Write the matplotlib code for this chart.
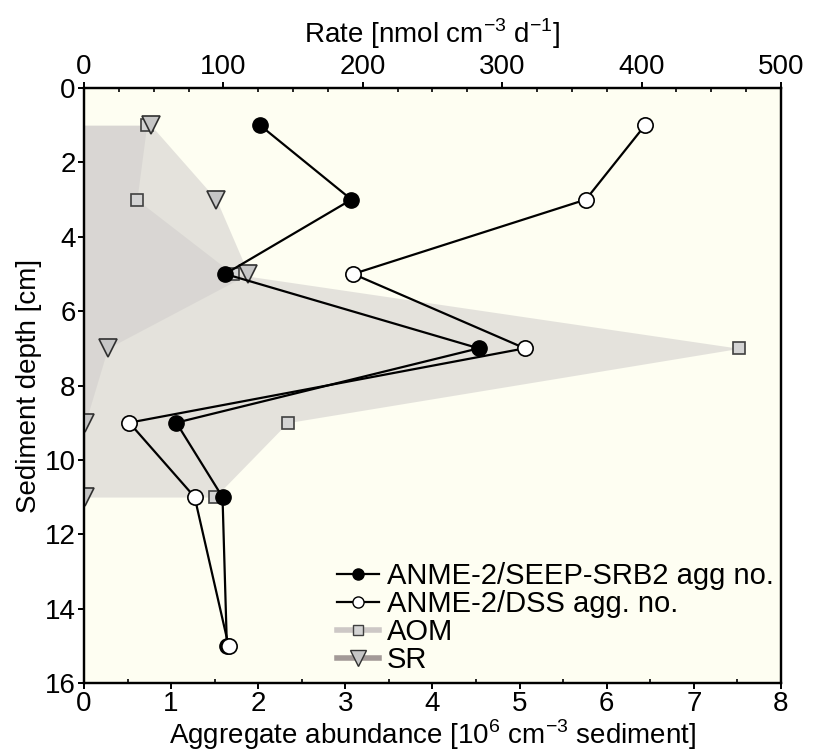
import matplotlib
matplotlib.use("Agg")
import matplotlib.pyplot as plt
from matplotlib.lines import Line2D
from matplotlib.ticker import MultipleLocator

plt.rcParams["font.family"] = ["Liberation Sans", "DejaVu Sans"]
plt.rcParams["mathtext.fontset"] = "custom"
plt.rcParams["mathtext.rm"] = "Liberation Sans"

# depths [cm]
depth_agg = [1, 3, 5, 7, 9, 11, 15]
depth_rate = [1, 3, 5, 7, 9, 11]

# aggregate abundance [10^6 cm-3]
seep_srb2 = [2.02, 3.07, 1.62, 4.53, 1.06, 1.59, 1.64]
dss = [6.44, 5.76, 3.09, 5.06, 0.52, 1.27, 1.66]

# rates [nmol cm-3 d-1]
aom = [45, 38, 107, 470, 146, 94]
sr = [48, 95, 118, 17, 1, 1]

bg = "#fefef2"
fill_col = "#d2cfcd"
aom_line = "#cdc8c6"
sr_line = "#a39a98"
fs = 20

fig = plt.figure(figsize=(8.17, 7.55), dpi=100)
ax2 = fig.add_axes([0.1028, 0.0954, 0.8531, 0.788])
ax = ax2.twiny()
ax.set_zorder(ax2.get_zorder() + 1)
ax.patch.set_visible(False)
ax2.set_facecolor(bg)

# rate profiles as shaded areas (top axis)
ax2.fill_betweenx(depth_rate, 0, aom, color=fill_col, alpha=0.58, lw=0)
ax2.fill_betweenx(depth_rate, 0, sr, color=fill_col, alpha=0.58, lw=0)
ax2.plot(aom, depth_rate, ls="none", marker="s", ms=8.5, mfc="#d4d4d4",
         mec="#404040", mew=1.2, zorder=3)
ax2.plot(sr, depth_rate, ls="none", marker="v", ms=13, mfc="#c6c6c6",
         mec="#303030", mew=1.2, zorder=4)

# aggregate profiles (bottom axis)
ax.plot(seep_srb2, depth_agg, color="black", lw=1.6, marker="o", ms=11,
        mfc="black", mec="black", zorder=5)
ax.plot(dss, depth_agg, color="black", lw=1.6, marker="o", ms=11,
        mfc="white", mec="black", mew=1.2, zorder=6)

ax.set_xlim(0, 8)
ax2.set_xlim(0, 500)
ax2.set_ylim(16, 0)

# twiny puts ax on top: swap so the abundance scale is on the bottom
ax.xaxis.set_ticks_position("bottom")
ax.xaxis.set_label_position("bottom")
ax2.xaxis.set_ticks_position("top")
ax2.xaxis.set_label_position("top")

ax.xaxis.set_major_locator(MultipleLocator(1))
ax.xaxis.set_minor_locator(MultipleLocator(0.5))
ax2.xaxis.set_major_locator(MultipleLocator(100))
ax2.xaxis.set_minor_locator(MultipleLocator(25))
ax2.yaxis.set_major_locator(MultipleLocator(2))

for a in (ax, ax2):
    for s in a.spines.values():
        s.set_linewidth(1.6)
    a.tick_params(which="major", direction="out", length=4, width=1.4,
                  labelsize=fs, pad=2)
    a.tick_params(which="minor", direction="in", length=3, width=1.2)

ax.set_xlabel(r"Aggregate abundance [10$^{\mathregular{6}}$ cm$^{\mathregular{-3}}$ sediment]",
              fontsize=fs, labelpad=0)
ax2.set_xlabel(r"Rate [nmol cm$^{\mathregular{-3}}$ d$^{\mathregular{-1}}$]",
               fontsize=fs, labelpad=8)
ax2.set_ylabel("Sediment depth [cm]", fontsize=fs, labelpad=2)

handles = [
    Line2D([], [], color="black", lw=1.6, marker="o", ms=8, mfc="black", mec="black"),
    Line2D([], [], color="black", lw=1.6, marker="o", ms=8, mfc="white", mec="black"),
    Line2D([], [], color=aom_line, lw=4, marker="s", ms=7, mfc="#d4d4d4", mec="#404040"),
    Line2D([], [], color=sr_line, lw=4, marker="v", ms=11, mfc="#c6c6c6", mec="#303030"),
]
labels = ["ANME-2/SEEP-SRB2 agg no.", "ANME-2/DSS agg. no.", "AOM", "SR"]
ax.legend(handles, labels, loc="lower left", bbox_to_anchor=(0.363, 0.015),
          frameon=False, fontsize=21, borderpad=0, handlelength=1.45,
          handletextpad=0.25, labelspacing=0.0, borderaxespad=0)

fig.savefig("out.png", dpi=100)
